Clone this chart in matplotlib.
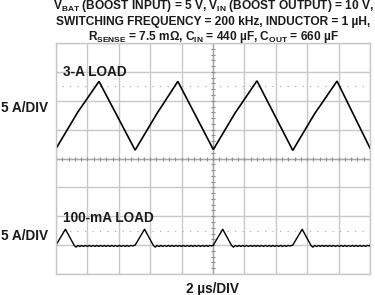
import matplotlib
matplotlib.use("Agg")
import matplotlib.pyplot as plt
import numpy as np

plt.rcParams['font.family'] = ['Liberation Sans', 'DejaVu Sans']
plt.rcParams['mathtext.fontset'] = 'custom'
plt.rcParams['mathtext.rm'] = 'Liberation Sans:bold'
plt.rcParams['mathtext.it'] = 'Liberation Sans:bold'
plt.rcParams['mathtext.bf'] = 'Liberation Sans:bold'

# ---- data (in scope divisions: x 0..10, y 0..8) ----
title_lines = [
    r"V$_{\rm BAT}$ (BOOST INPUT) = 5 V, V$_{\rm IN}$ (BOOST OUTPUT) = 10 V,",
    "SWITCHING FREQUENCY = 200 kHz, INDUCTOR = 1 µH,",
    r"R$_{\rm SENSE}$ = 7.5 mΩ, C$_{\rm IN}$ = 440 µF, C$_{\rm OUT}$ = 660 µF",
]
x_label = "2 µs/DIV"
y_labels = ["5 A/DIV", "5 A/DIV"]
trace_labels = ["3-A LOAD", "100-mA LOAD"]

# 3-A load inductor current (triangle)
top_t = [0.00, 0.69, 1.37, 2.52, 3.21, 3.88, 5.01, 5.70, 6.40, 7.54, 8.23, 8.95, 10.00]
top_v = [4.34, 5.60, 6.67, 4.29, 5.55, 6.67, 4.31, 5.57, 6.69, 4.28, 5.54, 6.68, 4.36]

# 100-mA load: pulse shape over one switching period, repeated at each period start
period_starts = [0.00, 2.52, 5.01, 7.54]
low_shape_t = [0.00, 0.30, 0.58, 0.64, 0.70, 0.76, 0.82, 0.88, 0.94, 1.00, 1.06,
               1.12, 1.18, 1.24, 1.30, 1.36, 1.42, 1.48, 1.54, 1.60, 1.66, 1.72,
               1.78, 1.84, 1.90, 1.96, 2.02, 2.08, 2.14, 2.20, 2.26, 2.32, 2.38, 2.44]
low_shape_v = [1.00, 1.55, 0.99, 0.93, 0.99, 0.95, 0.99, 0.955, 0.99, 0.955, 0.99,
               0.955, 0.99, 0.955, 0.99, 0.955, 0.99, 0.955, 0.99, 0.955, 0.99, 0.955,
               0.99, 0.955, 0.99, 0.955, 0.99, 0.955, 0.99, 0.955, 0.99, 0.955, 0.99, 0.97]
low_end_v = 1.00

marker_levels = [6.5, 1.5]

W, H = 375, 295
fig = plt.figure(figsize=(W / 100, H / 100), dpi=100)
L, R, T, B = 56, 370, 43, 274
ax = fig.add_axes([L / W, (H - B) / H, (R - L) / W, (B - T) / H])
ax.set_xlim(0, 10)
ax.set_ylim(0, 8)

gcol = '#c8c8c8'
ax.set_xticks(np.arange(0, 11))
ax.set_yticks(np.arange(0, 9))
ax.grid(True, color=gcol, lw=1.0)
ax.tick_params(length=0, labelbottom=False, labelleft=False)
for s in ax.spines.values():
    s.set_color(gcol)
    s.set_linewidth(1.0)

# center axes with minor ticks
ax.axhline(4, color='#a8a8a8', lw=1.0)
ax.axvline(5, color='#a8a8a8', lw=1.0)
mx = np.arange(0, 10.01, 0.2)
my = np.arange(0, 8.01, 0.2)
ax.plot(mx, np.full_like(mx, 4), ls='none', marker='|', ms=3, mew=0.8, color='#909090')
ax.plot(np.full_like(my, 5), my, ls='none', marker='_', ms=3, mew=0.8, color='#909090')

# dotted marker lines
for lv in marker_levels:
    ax.axhline(lv, xmin=0.02, xmax=1.0, color='#b0b0b0', lw=0.9, ls=(0, (1, 5)))

# traces
ax.plot(top_t, top_v, color='black', lw=1.2, solid_joinstyle='miter')
lt, lv = [], []
for s in period_starts:
    for t, v in zip(low_shape_t, low_shape_v):
        if s + t <= 10:
            lt.append(s + t)
            lv.append(v)
lt.append(10.0)
lv.append(low_end_v)
ax.plot(lt, lv, color='black', lw=1.0)

# labels
tcol = '#1a1a1a'
fs_title = 8.6
fs_lab = 9.8
for i, y in enumerate([9.5, 24.5, 40]):
    fig.text(213 / W, 1 - y / H, title_lines[i], ha='center', va='baseline',
             fontsize=fs_title, fontweight='bold', color=tcol)
fig.text(48.3 / W, 1 - 111.7 / H, y_labels[0], ha='right', va='baseline', fontsize=fs_lab,
         fontweight='bold', color=tcol)
fig.text(48.3 / W, 1 - 240.5 / H, y_labels[1], ha='right', va='baseline', fontsize=fs_lab,
         fontweight='bold', color=tcol)
fig.text(63 / W, 1 - 75.7 / H, trace_labels[0], ha='left', va='baseline', fontsize=fs_lab,
         fontweight='bold', color=tcol)
fig.text(63 / W, 1 - 221.7 / H, trace_labels[1], ha='left', va='baseline', fontsize=fs_lab,
         fontweight='bold', color=tcol)
fig.text(213 / W, 1 - 293.5 / H, x_label, ha='center', va='baseline', fontsize=fs_lab,
         fontweight='bold', color=tcol)

fig.savefig('out.png', dpi=100, facecolor='white')
